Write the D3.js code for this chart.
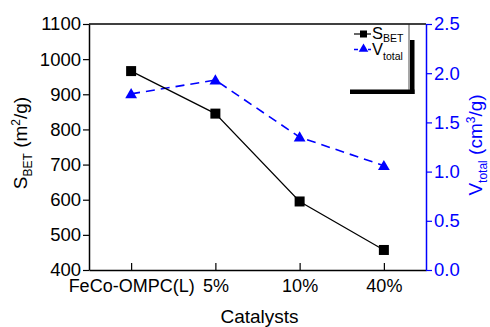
<!DOCTYPE html>
<html>
<head>
<meta charset="utf-8">
<script src="https://cdn.jsdelivr.net/npm/d3@7"></script>
<style>
  body { margin: 0; background: #fff; }
  text { font-family: "Liberation Sans", Arial, sans-serif; }
</style>
</head>
<body>
<div id="chart"></div>
<script>
var categories = ['FeCo-OMPC(L)', '5%', '10%', '40%'];
var sBet = [966, 845, 595, 457];
var vTotal = [1.79, 1.93, 1.35, 1.06];
var leftTicks = [400, 500, 600, 700, 800, 900, 1000, 1100];
var rightTicks = [0, 0.5, 1.0, 1.5, 2.0, 2.5];

var margin = { top: 24, left: 89, right: 64, bottom: 57 };
var width = 490, height = 327;
var blue = '#0000ff';

var svg = d3.select('#chart').append('svg')
  .attr('width', width).attr('height', height)
  .append('g')
  .attr('transform', 'translate(' + margin.left + ',' + margin.top + ')');

width = width - margin.left - margin.right;
height = height - margin.top - margin.bottom;

var x = d3.scaleLinear().domain([-0.5, 3.5]).range([0, width]);
var yL = d3.scaleLinear().domain([400, 1100]).range([height, 0]);
var yR = d3.scaleLinear().domain([0, 2.5]).range([height, 0]);

// top frame line
svg.append('line')
  .attr('x1', 0).attr('x2', width).attr('y1', 0).attr('y2', 0)
  .attr('stroke', 'black').attr('stroke-width', 1.5);

// x axis, ticks pointing inward
var xAxis = svg.append('g')
  .attr('transform', 'translate(0,' + height + ')')
  .call(d3.axisBottom(x).tickValues([0, 1, 2, 3]).tickSizeInner(-7).tickSizeOuter(0)
    .tickFormat(function(d) { return categories[d]; }));
xAxis.select('.domain').attr('stroke-width', 1.5);
xAxis.selectAll('.tick line').attr('stroke-width', 1.2);
xAxis.selectAll('text').attr('y', 9).attr('dy', '0.71em')
  .style('font-size', '18px').attr('fill', 'black');

// left axis
var leftAxis = svg.append('g')
  .call(d3.axisLeft(yL).tickValues(leftTicks).tickSizeInner(6).tickSizeOuter(0).tickPadding(2)
    .tickFormat(d3.format('d')));
leftAxis.select('.domain').attr('stroke-width', 1.5);
leftAxis.selectAll('.tick line').attr('stroke-width', 1.2);
leftAxis.selectAll('text').style('font-size', '18.5px').attr('fill', 'black');

// right axis
var rightAxis = svg.append('g')
  .attr('transform', 'translate(' + width + ',0)')
  .call(d3.axisRight(yR).tickValues(rightTicks).tickSizeInner(6).tickSizeOuter(0).tickPadding(2)
    .tickFormat(d3.format('.1f')));
rightAxis.select('.domain').attr('stroke', blue).attr('stroke-width', 1.5);
rightAxis.selectAll('.tick line').attr('stroke', blue).attr('stroke-width', 1.2);
rightAxis.selectAll('text').style('font-size', '18.5px').attr('fill', blue);

// axis titles
svg.append('text')
  .attr('x', width / 2 + 2).attr('y', height + 53)
  .attr('text-anchor', 'middle').style('font-size', '19px')
  .text('Catalysts');

var lt = svg.append('text')
  .attr('transform', 'translate(' + (27 - margin.left) + ',' + (height / 2 - 4) + ') rotate(-90)')
  .attr('text-anchor', 'middle').style('font-size', '19px');
lt.append('tspan').text('S');
lt.append('tspan').attr('dy', 5).style('font-size', '12px').text('BET');
lt.append('tspan').attr('dy', -5).text('  (m');
lt.append('tspan').attr('dy', -7).style('font-size', '12px').text('2');
lt.append('tspan').attr('dy', 7).text('/g)');

var rt = svg.append('text')
  .attr('transform', 'translate(' + (width + 56) + ',' + (height / 2 - 2) + ') rotate(-90)')
  .attr('text-anchor', 'middle').style('font-size', '19px').attr('fill', blue);
rt.append('tspan').text('V');
rt.append('tspan').attr('dy', 5).style('font-size', '12px').text('total');
rt.append('tspan').attr('dy', -5).text(' (cm');
rt.append('tspan').attr('dy', -7).style('font-size', '12px').text('3');
rt.append('tspan').attr('dy', 7).text('/g)');

// series
var lineS = d3.line()
  .x(function(d, i) { return x(i); })
  .y(function(d) { return yL(d); });
var lineV = d3.line()
  .x(function(d, i) { return x(i); })
  .y(function(d) { return yR(d); });

svg.append('path').datum(vTotal)
  .attr('fill', 'none').attr('stroke', blue).attr('stroke-width', 1.6)
  .attr('stroke-dasharray', '9,6').attr('d', lineV);

svg.append('path').datum(sBet)
  .attr('fill', 'none').attr('stroke', 'black').attr('stroke-width', 1.2)
  .attr('d', lineS);

var tri = d3.symbol().type(d3.symbolTriangle).size(60);
svg.selectAll('.tri').data(vTotal).enter().append('path')
  .attr('class', 'tri')
  .attr('transform', function(d, i) { return 'translate(' + x(i) + ',' + (yR(d) + 1) + ')'; })
  .attr('d', tri).attr('fill', blue);

svg.selectAll('.sq').data(sBet).enter().append('rect')
  .attr('class', 'sq')
  .attr('x', function(d, i) { return x(i) - 5; })
  .attr('y', function(d) { return yL(d) - 5; })
  .attr('width', 10).attr('height', 10).attr('fill', 'black');

// legend (box at 350..409 x 24..89, drop shadow right and bottom)
var lg = svg.append('g').attr('transform', 'translate(' + (350 - margin.left) + ',0)');
lg.append('rect').attr('x', 60).attr('y', 16).attr('width', 4.5).attr('height', 54).attr('fill', 'black');
lg.append('rect').attr('x', 0).attr('y', 65.5).attr('width', 64.5).attr('height', 4.5).attr('fill', 'black');
lg.append('line').attr('x1', 59).attr('x2', 59).attr('y1', 0).attr('y2', 66)
  .attr('stroke', '#222').attr('stroke-width', 0.8);

lg.append('line').attr('x1', 4).attr('x2', 21).attr('y1', 10).attr('y2', 10)
  .attr('stroke', 'black').attr('stroke-width', 1.2);
lg.append('rect').attr('x', 10).attr('y', 6.5).attr('width', 7).attr('height', 7).attr('fill', 'black');
var l1 = lg.append('text').attr('x', 22).attr('y', 15).style('font-size', '16.5px');
l1.append('tspan').text('S');
l1.append('tspan').attr('dy', 3).style('font-size', '10.5px').text('BET');

lg.append('line').attr('x1', 4).attr('x2', 21).attr('y1', 25.5).attr('y2', 25.5)
  .attr('stroke', blue).attr('stroke-width', 1.4).attr('stroke-dasharray', '4,3');
lg.append('path').attr('transform', 'translate(13.5,25)')
  .attr('d', d3.symbol().type(d3.symbolTriangle).size(40)).attr('fill', blue);
var l2 = lg.append('text').attr('x', 22).attr('y', 30.5).style('font-size', '16.5px');
l2.append('tspan').text('V');
l2.append('tspan').attr('dy', 5).style('font-size', '10.5px').text('total');
</script>
</body>
</html>
